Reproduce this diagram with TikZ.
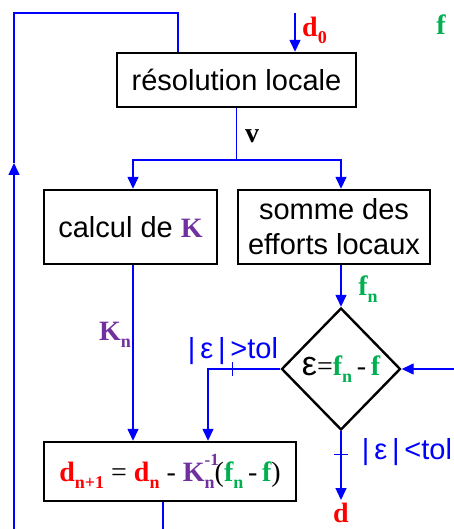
\documentclass[tikz,border=0pt]{standalone}
\usepackage{fontspec}
\setmainfont{Liberation Sans}
\newfontfamily\tms{Liberation Serif}
\usetikzlibrary{arrows.meta,positioning,calc,shapes.geometric}
\definecolor{dred}{RGB}{255,0,0}
\definecolor{fgreen}{RGB}{0,176,80}
\definecolor{kpurple}{RGB}{112,48,160}
\newcommand\mth{\tms\bfseries\fontsize{28}{30}\selectfont}
\newcommand\sbs[1]{\raisebox{-0.25em}{\fontsize{18}{18}\selectfont #1}}
\newcommand\sps[1]{\raisebox{0.55em}{\fontsize{17}{17}\selectfont #1}}
\tikzset{
  blk/.style={draw,rectangle,line width=2.4pt,inner sep=0pt,align=center,font=\fontsize{29}{35}\selectfont},
  decblk/.style={draw,diamond,line width=2.4pt,inner sep=0pt,minimum width=119pt,minimum height=122pt},
  lnk/.style={blue,line width=1.4pt},
  arr/.style={lnk,-{Triangle[width=11pt,length=12pt]}},
  mlbl/.style={inner sep=0pt,font=\mth},
  tlbl/.style={inner sep=0pt,text=blue,font=\fontsize{29}{31}\selectfont}
}
\begin{document}
\begin{tikzpicture}[x=1pt,y=-1pt]
  \useasboundingbox (0,0) rectangle (454,529);
  % blocs
  \node[blk, minimum width=239pt, minimum height=54pt] (res) at (236.5,80) {résolution locale};
  \node[blk, minimum width=173pt, minimum height=74pt] (calc) at (130.5,227) {calcul de {\mth\color{kpurple}K}};
  \node[blk, minimum width=192pt, minimum height=74pt] (somme) at (334,227) {somme des\\efforts locaux};
  \node[decblk] (dia) at (341,369) {};
  \node[inner sep=0pt] (diatxt) at (dia.center) {\fontsize{34}{34}\selectfont ε{\tms\fontsize{28}{30}\selectfont =}{\mth\color{fgreen}f\sbs{n}{\color{black}\,\mdseries-\,}f}};
  \node[blk, minimum width=252pt, minimum height=59pt] (upd) at (170,471.5)
    {\mth\color{dred}d\sbs{n+1}{\color{black}\mdseries\ =\ }d\sbs{n}{\color{black}\mdseries\ -\ }{\color{kpurple}K\rlap{\sps{-1}}\sbs{n}}{\color{black}\mdseries(}{\color{fgreen}f\sbs{n}{\color{black}\mdseries\,-\,}f}{\color{black}\mdseries)}};

  % points libres
  \coordinate (d0in) at (295,13);
  \coordinate (fin) at (454,369);
  \coordinate (vsplit) at (res.south |- 0,160);
  \coordinate (lbot) at (14,529);
  \coordinate (lmid) at (14,163);
  \coordinate (ltop) at (14,13);
  \coordinate (dout) at (341,500);

  % liaisons
  \draw[arr] (d0in) -- (d0in |- res.north);
  \draw[lnk] (res.south) -- (vsplit);
  \draw[arr] (vsplit) -| ([xshift=2.5pt]calc.north);
  \draw[arr] (vsplit) -| (dia.north |- somme.north);
  \draw[arr] ([xshift=2.5pt]calc.south) -- ([xshift=2.5pt]calc.south |- upd.north);
  \draw[arr] (dia.north |- somme.south) -- (dia.north);
  \draw[arr] (fin) -- (dia.east);
  \draw[arr] (dia.west) -| ([xshift=38pt]upd.north);
  \draw[lnk] ($(dia.west)+(-48,-7)$) -- ++(0,14);
  \draw[arr] (dia.south) -- (dout);
  \draw[lnk] ($(dia.south)+(-7,23)$) -- ++(14,0);
  \draw[lnk] ([xshift=-7pt]upd.south) -- ([xshift=-7pt]upd.south |- lbot);
  \draw[arr] (lbot) -- (lmid);
  \draw[lnk] (lmid) -- (ltop) -| ([xshift=-58.5pt]res.north);

  % etiquettes
  \node[mlbl, text=dred, right=7pt of d0in, yshift=-17pt] (d0lbl) {d\sbs{0}};
  \node[mlbl, text=fgreen] (flbl) at (441,25) {f};
  \node[mlbl] (vlbl) at (252,136) {v};
  \node[mlbl, text=kpurple] (klbl) at (115,335) {K\sbs{n}};
  \node[mlbl, text=fgreen] (fnlbl) at (368,289) {f\sbs{n}};
  \node[tlbl] (gtlbl) at (233,351) {|\,ε\,|\,>tol};
  \node[tlbl] (ltlbl) at (407,452) {|\,ε\,|\,<tol};
  \node[mlbl, text=dred, below=3pt of dout] (dlbl) {d};
\end{tikzpicture}
\end{document}
